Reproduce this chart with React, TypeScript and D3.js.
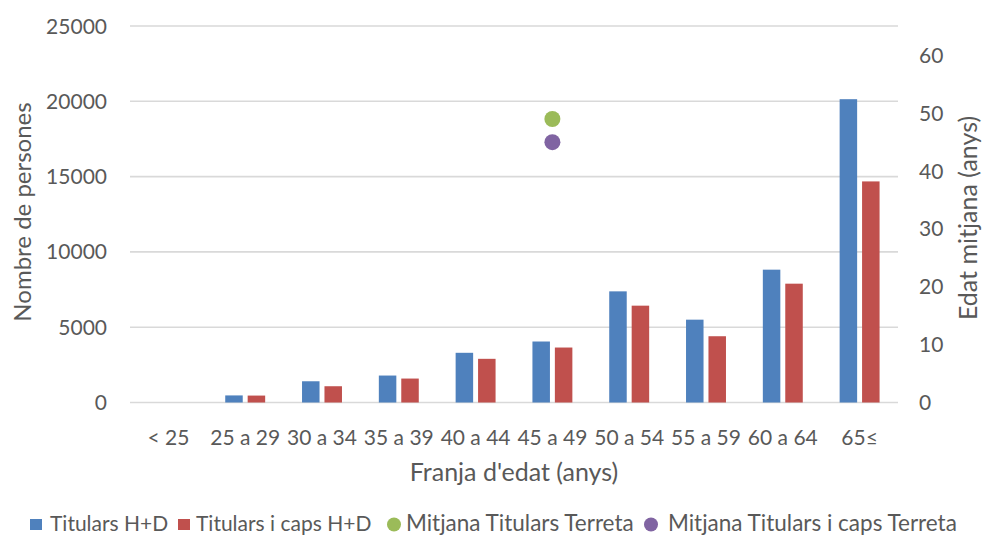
import React from 'react';
import * as d3 from 'd3';

const categories = ['< 25', '25 a 29', '30 a 34', '35 a 39', '40 a 44', '45 a 49', '50 a 54', '55 a 59', '60 a 64', '65≤'];
const titulars = [0, 470, 1410, 1790, 3300, 4050, 7380, 5500, 8820, 20140];
const titularsCaps = [0, 460, 1080, 1590, 2900, 3650, 6430, 4400, 7890, 14680];
// mitjanes de la Terreta (eix dret), només a la franja 45 a 49
const mitjanaCat = '45 a 49';
const mitjanaTitulars = 49;
const mitjanaCaps = 45;
const leftTicks = [0, 5000, 10000, 15000, 20000, 25000];
const rightTicks = [0, 10, 20, 30, 40, 50, 60];
const seriesNames = ['Titulars H+D', 'Titulars i caps H+D', 'Mitjana Titulars Terreta', 'Mitjana Titulars i caps Terreta'];

const COLORS = ['#4F81BD', '#C0504D', '#9BBB59', '#8064A2'];
const TEXT = '#595959';
const FONT = 'Lato, "Open Sans", sans-serif';

const App = () => {
  const width = 984;
  const height = 536;
  const plot = { left: 130, right: 898, top: 26, bottom: 402.5 };

  const x0 = d3.scaleBand<string>().domain(categories).range([plot.left, plot.right]).paddingInner(0.48).paddingOuter(0.24);
  const x1 = d3.scaleBand<number>().domain([0, 1]).range([0, x0.bandwidth()]).paddingInner(0.22);
  const yL = d3.scaleLinear().domain([0, 25000]).range([plot.bottom, plot.top]);
  const yR = d3.scaleLinear().domain([0, 60]).range([plot.bottom - 0.5, 55.5]);

  const bars = [titulars, titularsCaps];
  const cx = (x0(mitjanaCat) ?? 0) + x0.bandwidth() / 2;

  const legend = [
    { x: 30, kind: 'rect', text: seriesNames[0], tx: 50, fs: 21 },
    { x: 178, kind: 'rect', text: seriesNames[1], tx: 196, fs: 21 },
    { x: 387, kind: 'circle', text: seriesNames[2], tx: 406, fs: 22.5 },
    { x: 644, kind: 'circle', text: seriesNames[3], tx: 668, fs: 22.5 },
  ];

  return (
    <svg width={width} height={height} style={{ position: 'absolute', left: 0, top: 0, background: '#fff' }} fontFamily={FONT}>
      {/* gridlines */}
      {leftTicks.map((t) => (
        <line key={t} x1={plot.left} x2={plot.right} y1={yL(t)} y2={yL(t)} stroke="#D9D9D9" strokeWidth={1.6} />
      ))}
      {/* left tick labels */}
      {leftTicks.map((t) => (
        <text key={t} x={107} y={yL(t)} dy="0.36em" textAnchor="end" fill={TEXT} fontSize={21}>
          {t}
        </text>
      ))}
      {/* right tick labels */}
      {rightTicks.map((t) => (
        <text key={t} x={919} y={yR(t)} dy="0.36em" textAnchor="start" fill={TEXT} fontSize={21}>
          {t}
        </text>
      ))}
      {/* bars */}
      {bars.map((vals, si) =>
        vals.map((v, i) =>
          v > 0 ? (
            <rect
              key={`${si}-${i}`}
              x={(x0(categories[i]) ?? 0) + (x1(si) ?? 0)}
              y={yL(v)}
              width={x1.bandwidth()}
              height={yL(0) - yL(v)}
              fill={COLORS[si]}
            />
          ) : null
        )
      )}
      {/* points */}
      <circle cx={cx} cy={yR(mitjanaTitulars)} r={8} fill={COLORS[2]} />
      <circle cx={cx} cy={yR(mitjanaCaps)} r={8} fill={COLORS[3]} />
      {/* x tick labels */}
      {categories.map((c) => (
        <text key={c} x={(x0(c) ?? 0) + x0.bandwidth() / 2} y={445} textAnchor="middle" fill={TEXT} fontSize={21}>
          {c}
        </text>
      ))}
      {/* axis titles */}
      <text x={514} y={481} textAnchor="middle" fill={TEXT} fontSize={25}>
        Franja d'edat (anys)
      </text>
      <text transform="translate(31,212) rotate(-90)" textAnchor="middle" fill={TEXT} fontSize={24}>
        Nombre de persones
      </text>
      <text transform="translate(977,218) rotate(-90)" textAnchor="middle" fill={TEXT} fontSize={25}>
        Edat mitjana (anys)
      </text>
      {/* legend */}
      {legend.map((l, i) => (
        <g key={i}>
          {l.kind === 'rect' ? (
            <rect x={l.x} y={519} width={12} height={11} fill={COLORS[i]} />
          ) : (
            <circle cx={l.x + 7} cy={524.5} r={7} fill={COLORS[i]} />
          )}
          <text x={l.tx} y={531} fill={TEXT} fontSize={l.fs}>
            {l.text}
          </text>
        </g>
      ))}
    </svg>
  );
};

export default App;
